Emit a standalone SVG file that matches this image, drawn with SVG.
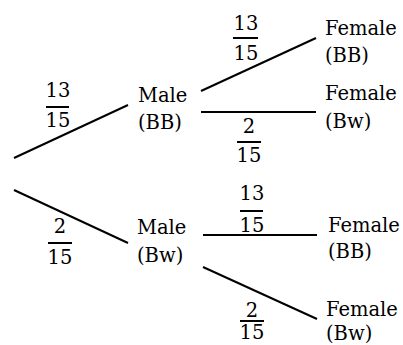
<svg xmlns="http://www.w3.org/2000/svg" width="403" height="345" viewBox="0 0 403 345">
<style>
.t{font-family:"DejaVu Serif","Liberation Serif",serif;font-size:19.5px;fill:#000}
.n{font-family:"DejaVu Serif","Liberation Serif",serif;font-size:19.5px;fill:#000;text-anchor:middle}
.e{stroke:#000;stroke-width:2;fill:none}
.b{stroke:#000;stroke-width:2}
</style>
<rect width="403" height="345" fill="#fff"/>
<g id="connectors">
<line class="e" x1="14" y1="158" x2="128" y2="105"/>
<line class="e" x1="14" y1="190" x2="128" y2="243"/>
<line class="e" x1="201" y1="91" x2="316" y2="38"/>
<line class="e" x1="201" y1="112" x2="316" y2="112"/>
<line class="e" x1="203" y1="235" x2="317" y2="235"/>
<line class="e" x1="203" y1="267" x2="317" y2="319"/>
</g>
<g id="labels">
<g id="p1"><text class="n" x="58" y="97">13</text><line class="b" x1="46" y1="107" x2="69" y2="107"/><text class="n" x="58" y="127">15</text></g>
<g id="p2"><text class="n" x="60" y="233">2</text><line class="b" x1="48" y1="243" x2="72" y2="243"/><text class="n" x="60" y="264">15</text></g>
<g id="p3"><text class="n" x="246" y="30">13</text><line class="b" x1="233" y1="38" x2="258" y2="38"/><text class="n" x="246" y="60">15</text></g>
<g id="p4"><text class="n" x="249" y="133">2</text><line class="b" x1="237" y1="142" x2="261" y2="142"/><text class="n" x="249" y="162">15</text></g>
<g id="p5"><text class="n" x="252" y="200">13</text><line class="b" x1="240" y1="211" x2="263" y2="211"/><text class="n" x="252" y="232">15</text></g>
<g id="p6"><text class="n" x="252" y="317">2</text><line class="b" x1="240" y1="321" x2="264" y2="321"/><text class="n" x="252" y="339">15</text></g>
</g>
<g id="male-bb"><text class="t" x="138" y="102">Male</text><text class="t" x="138" y="129">(BB)</text></g>
<g id="male-bw"><text class="t" x="137" y="234">Male</text><text class="t" x="137" y="262">(Bw)</text></g>
<g id="female-bb-1"><text class="t" x="325" y="35">Female</text><text class="t" x="325" y="62">(BB)</text></g>
<g id="female-bw-1"><text class="t" x="325" y="100">Female</text><text class="t" x="325" y="128">(Bw)</text></g>
<g id="female-bb-2"><text class="t" x="328" y="232">Female</text><text class="t" x="328" y="258">(BB)</text></g>
<g id="female-bw-2"><text class="t" x="326" y="316">Female</text><text class="t" x="326" y="340">(Bw)</text></g>
</svg>
